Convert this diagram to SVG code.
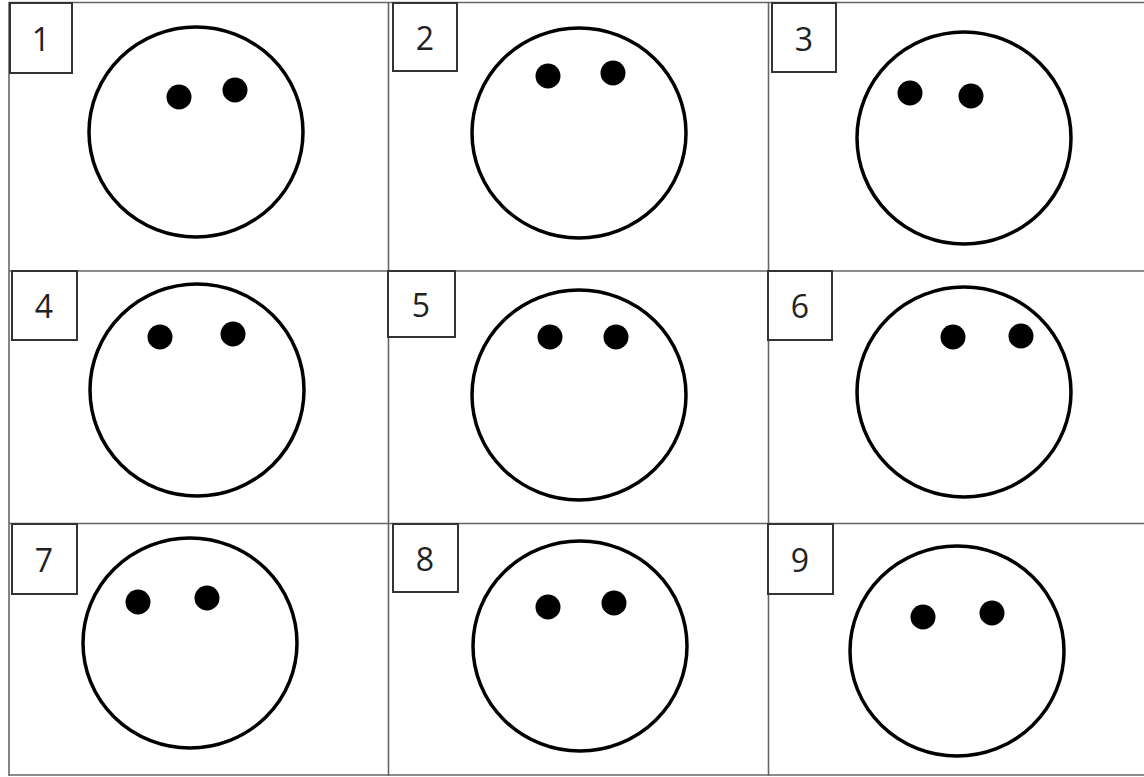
<svg xmlns="http://www.w3.org/2000/svg" width="1144" height="777" viewBox="0 0 1144 777">
<style>
.grid{stroke:#666;stroke-width:1.6;fill:none}
.box{fill:#fff;stroke:#333;stroke-width:2}
.lbl{font-family:"Open Sans","Liberation Sans",sans-serif;font-size:32px;fill:#222;text-anchor:middle;dominant-baseline:central}
.face{fill:#fff;stroke:#000;stroke-width:3.5}
.eye{fill:#000}
</style>
<rect width="1144" height="777" fill="#fff"/>
<g id="grid" class="grid">
<line x1="9" y1="2.5" x2="1144" y2="2.5"/>
<line x1="9" y1="271" x2="1144" y2="271"/>
<line x1="9" y1="523.5" x2="1144" y2="523.5"/>
<line x1="9" y1="775" x2="1144" y2="775"/>
<line x1="9" y1="2" x2="9" y2="776"/>
<line x1="388.5" y1="2" x2="388.5" y2="776"/>
<line x1="768.5" y1="2" x2="768.5" y2="776"/>
</g>
<g id="cell1">
<rect class="box" x="10" y="3" width="62" height="70"/>
<text class="lbl" x="41" y="38">1</text>
<ellipse class="face" cx="196" cy="132" rx="107" ry="105"/>
<circle class="eye" cx="179" cy="97" r="12.5"/>
<circle class="eye" cx="235" cy="90" r="12.5"/>
</g>
<g id="cell2">
<rect class="box" x="393" y="3" width="64" height="68"/>
<text class="lbl" x="425" y="37">2</text>
<ellipse class="face" cx="579" cy="133" rx="107" ry="105"/>
<circle class="eye" cx="548" cy="76" r="12.5"/>
<circle class="eye" cx="613" cy="73" r="12.5"/>
</g>
<g id="cell3">
<rect class="box" x="772" y="3" width="64" height="69"/>
<text class="lbl" x="804" y="38">3</text>
<ellipse class="face" cx="964" cy="138" rx="107" ry="106"/>
<circle class="eye" cx="910" cy="93" r="12.5"/>
<circle class="eye" cx="971" cy="96" r="12.5"/>
</g>
<g id="cell4">
<rect class="box" x="12" y="271" width="65" height="69"/>
<text class="lbl" x="44" y="305">4</text>
<ellipse class="face" cx="197" cy="390" rx="107" ry="106"/>
<circle class="eye" cx="160" cy="337" r="12.5"/>
<circle class="eye" cx="233" cy="334" r="12.5"/>
</g>
<g id="cell5">
<rect class="box" x="388" y="271" width="67" height="66"/>
<text class="lbl" x="421" y="304">5</text>
<ellipse class="face" cx="579" cy="395" rx="107" ry="105"/>
<circle class="eye" cx="550" cy="337" r="12.5"/>
<circle class="eye" cx="616" cy="337" r="12.5"/>
</g>
<g id="cell6">
<rect class="box" x="768" y="271" width="64" height="69"/>
<text class="lbl" x="800" y="305">6</text>
<ellipse class="face" cx="964" cy="392" rx="107" ry="105"/>
<circle class="eye" cx="953" cy="337" r="12.5"/>
<circle class="eye" cx="1021" cy="336" r="12.5"/>
</g>
<g id="cell7">
<rect class="box" x="12" y="524" width="65" height="70"/>
<text class="lbl" x="44" y="559">7</text>
<ellipse class="face" cx="190" cy="643" rx="107" ry="105"/>
<circle class="eye" cx="138" cy="602" r="12.5"/>
<circle class="eye" cx="207" cy="598" r="12.5"/>
</g>
<g id="cell8">
<rect class="box" x="393" y="524" width="65" height="68"/>
<text class="lbl" x="425" y="558">8</text>
<ellipse class="face" cx="580" cy="646" rx="107" ry="105"/>
<circle class="eye" cx="548" cy="607" r="12.5"/>
<circle class="eye" cx="614" cy="603" r="12.5"/>
</g>
<g id="cell9">
<rect class="box" x="768" y="524" width="65" height="70"/>
<text class="lbl" x="800" y="559">9</text>
<ellipse class="face" cx="957" cy="651" rx="107" ry="105"/>
<circle class="eye" cx="923" cy="617" r="12.5"/>
<circle class="eye" cx="992" cy="613" r="12.5"/>
</g>
</svg>
